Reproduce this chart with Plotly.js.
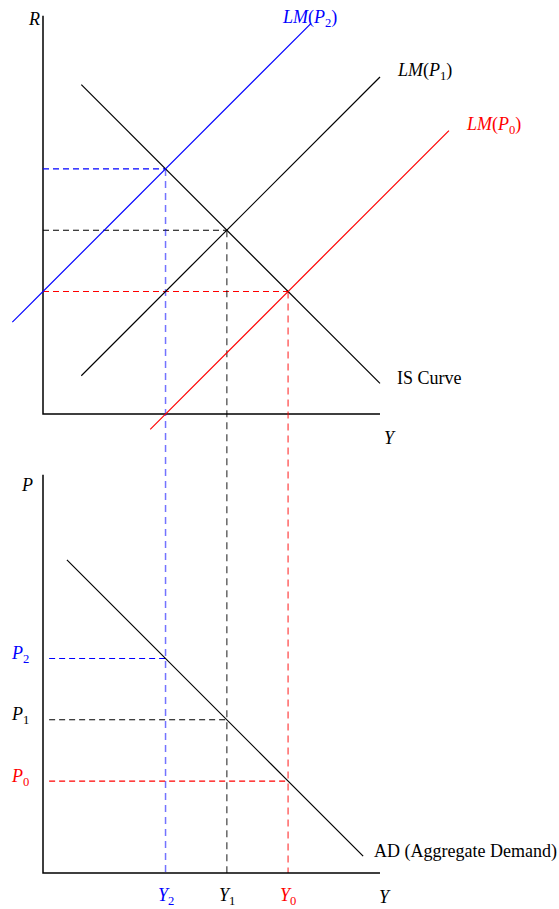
<!DOCTYPE html>
<html>
<head>
<meta charset="utf-8">
<script src="https://cdn.plot.ly/plotly-3.0.1.min.js"></script>
<style>html,body{margin:0;padding:0;background:#fff;}#chart{width:559px;height:909px;}</style>
</head>
<body>
<div id="chart"></div>
<script>
// ---- Data ----
// Equilibria: Y2, Y1, Y0 and corresponding R and P levels
const eqY = [4, 6, 8];
const eqR = [8, 6, 4];
const eqP = [7, 5, 3];
const eqColors = ['#0000ff', '#000000', '#ff0000'];
const eqColorsLight = ['rgba(0,0,255,0.55)', 'rgba(0,0,0,0.6)', 'rgba(255,0,0,0.6)'];
const yTickLabels = ['<i>Y</i><sub>2</sub>', '<i>Y</i><sub>1</sub>', '<i>Y</i><sub>0</sub>'];
const pTickLabels = ['<i>P</i><sub>2</sub>', '<i>P</i><sub>1</sub>', '<i>P</i><sub>0</sub>'];

// Curve end points (Y, R) for the IS-LM panel
const isY = [1.25, 11], isR = [10.75, 1];
const lm1Y = [1.25, 11], lm1R = [1.25, 11];
const lm2Y = [-1, 8.75], lm2R = [3, 12.75];
const lm0Y = [3.5, 13.25], lm0R = [-0.5, 9.25];
// Curve end points (Y, P) for the AD panel
const adY = [0.78, 10.45], adP = [10.22, 0.55];

// Axis extents
const axisYmax = 11, axisRmax = 13, axisPmax = 13;
const pDashStart = 0.2;

// ---- Axis ranges (both vertical scales overlay the full page height) ----
const xRange = [-1.4036, 16.843];
const rRange = [-16.158, 13.514];
const pRange = [-1.175, 28.496];
function pToR(p) {
  const f = (p - pRange[0]) / (pRange[1] - pRange[0]);
  return rRange[0] + f * (rRange[1] - rRange[0]);
}

const traces = [];
function seg(x, y, color, width, dash, axis) {
  traces.push({type: 'scatter', mode: 'lines', x: x, y: y, yaxis: axis || 'y',
    line: {color: color, width: width, dash: dash || 'solid'}, hoverinfo: 'skip'});
}
// axes
seg([0, 0, axisYmax], [axisRmax, 0, 0], '#000', 1.5, 'solid', 'y');
seg([0, 0, axisYmax], [axisPmax, 0, 0], '#000', 1.5, 'solid', 'y2');
// horizontal dashed guides
for (let i = 0; i < eqY.length; i++) {
  seg([0, eqY[i]], [eqR[i], eqR[i]], eqColors[i], 1.1, '6px,4px', 'y');
  seg([pDashStart, eqY[i]], [eqP[i], eqP[i]], eqColors[i], 1.1, '6px,4px', 'y2');
}
// vertical dashed guides spanning both panels
for (let i = 0; i < eqY.length; i++) {
  seg([eqY[i], eqY[i]], [eqR[i], pToR(0)], eqColorsLight[i], 1.5, '7px,5px', 'y');
}
// curves
seg(isY, isR, '#000', 1.2, 'solid', 'y');
seg(lm1Y, lm1R, '#000', 1.2, 'solid', 'y');
seg(lm2Y, lm2R, '#0000ff', 1.2, 'solid', 'y');
seg(lm0Y, lm0R, '#ff0000', 1.2, 'solid', 'y');
seg(adY, adP, '#000', 1.2, 'solid', 'y2');

const font = {family: 'Liberation Serif, Times New Roman, serif', size: 18, color: '#000'};
function ann(text, x, y, yref, xanchor, color, extra) {
  return Object.assign({text: text, x: x, y: y, xref: 'x', yref: yref, showarrow: false,
    xanchor: xanchor, yanchor: 'middle', font: Object.assign({}, font, {color: color || '#000'})}, extra || {});
}
const annotations = [
  ann('<i>R</i>', -0.31, 12.9, 'y', 'center'),
  ann('<i>Y</i>', 11.33, -0.78, 'y', 'center'),
  ann('<i>LM</i>(<i>P</i><sub>2</sub>)', 7.74, 12.91, 'y', 'left', '#0000ff'),
  ann('<i>LM</i>(<i>P</i><sub>1</sub>)', 11.49, 11.18, 'y', 'left', '#000'),
  ann('<i>LM</i>(<i>P</i><sub>0</sub>)', 13.74, 9.41, 'y', 'left', '#ff0000'),
  ann('IS Curve', 11.49, 1.18, 'y', 'left'),
  ann('<i>P</i>', -0.52, 12.68, 'y2', 'center'),
  ann('<i>Y</i>', 11.16, -0.77, 'y2', 'center'),
  ann('AD (Aggregate Demand)', 10.74, 0.69, 'y2', 'left')
];
for (let i = 0; i < eqY.length; i++) {
  annotations.push(ann(yTickLabels[i], eqY[i], -0.77, 'y2', 'center', eqColors[i]));
  annotations.push(ann(pTickLabels[i], -0.39, eqP[i], 'y2', 'right', eqColors[i], {yshift: 4}));
}

const layout = {
  width: 559, height: 909,
  margin: {l: 0, r: 0, t: 0, b: 0, pad: 0},
  paper_bgcolor: '#fff', plot_bgcolor: '#fff',
  showlegend: false,
  xaxis: {range: xRange, visible: false, fixedrange: true},
  yaxis: {range: rRange, visible: false, fixedrange: true},
  yaxis2: {range: pRange, visible: false, overlaying: 'y', fixedrange: true},
  annotations: annotations
};
Plotly.newPlot('chart', traces, layout, {displayModeBar: false});
</script>
</body>
</html>
